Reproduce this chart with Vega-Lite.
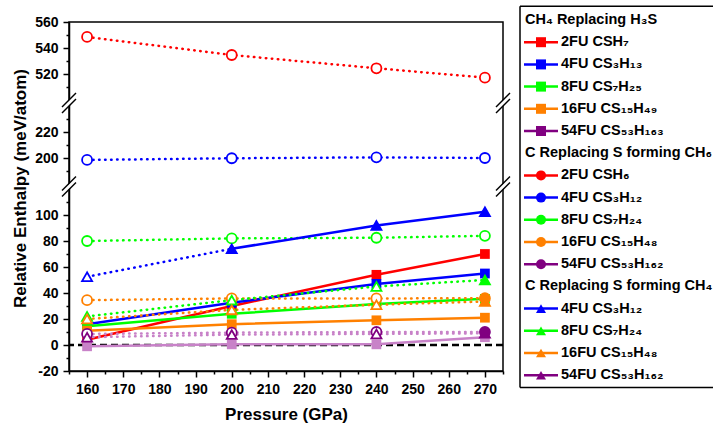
{
  "$schema": "https://vega.github.io/schema/vega-lite/v6.json",
  "padding": {"left": 10, "top": 5, "right": 0, "bottom": 0},
  "autosize": {"type": "pad"},
  "spacing": 17,
  "bounds": "flush",
  "config": {
    "font": "Liberation Sans",
    "view": {"stroke": "black", "strokeWidth": 1.5},
    "axis": {
      "labelFont": "Liberation Sans", "labelFontWeight": "bold", "labelFontSize": 14, "labelColor": "black",
      "titleFont": "Liberation Sans", "titleFontWeight": "bold", "titleColor": "black",
      "domainColor": "black", "domainWidth": 1.5, "tickColor": "black", "tickWidth": 1.5,
      "grid": false, "labelPadding": 5, "labelOverlap": false, "labelFlush": false
    }
  },
  "hconcat": [
    {
      "width": 434,
      "height": 349,
      "data": {"values": [
        {"fu": "2FU", "group": "A", "p": 160, "v": 4, "filled": true},
        {"fu": "2FU", "group": "A", "p": 200, "v": 30, "filled": true},
        {"fu": "2FU", "group": "A", "p": 240, "v": 54, "filled": true},
        {"fu": "2FU", "group": "A", "p": 270, "v": 70, "filled": true},
        {"fu": "4FU", "group": "A", "p": 160, "v": 16, "filled": true},
        {"fu": "4FU", "group": "A", "p": 200, "v": 32.5, "filled": true},
        {"fu": "4FU", "group": "A", "p": 240, "v": 47, "filled": true},
        {"fu": "4FU", "group": "A", "p": 270, "v": 55, "filled": true},
        {"fu": "8FU", "group": "A", "p": 160, "v": 14.5, "filled": true},
        {"fu": "8FU", "group": "A", "p": 200, "v": 24, "filled": true},
        {"fu": "8FU", "group": "A", "p": 240, "v": 31.5, "filled": true},
        {"fu": "8FU", "group": "A", "p": 270, "v": 35.5, "filled": true},
        {"fu": "16FU", "group": "A", "p": 160, "v": 11, "filled": true},
        {"fu": "16FU", "group": "A", "p": 200, "v": 16, "filled": true},
        {"fu": "16FU", "group": "A", "p": 240, "v": 19, "filled": true},
        {"fu": "16FU", "group": "A", "p": 270, "v": 21, "filled": true},
        {"fu": "54FU", "group": "A", "p": 160, "v": -1, "filled": true},
        {"fu": "54FU", "group": "A", "p": 200, "v": 0.5, "filled": true},
        {"fu": "54FU", "group": "A", "p": 240, "v": 0.5, "filled": true},
        {"fu": "54FU", "group": "A", "p": 270, "v": 6, "filled": true},
        {"fu": "2FU", "group": "B", "p": 160, "v": 548.5, "filled": false},
        {"fu": "2FU", "group": "B", "p": 200, "v": 534.6, "filled": false},
        {"fu": "2FU", "group": "B", "p": 240, "v": 524.4, "filled": false},
        {"fu": "2FU", "group": "B", "p": 270, "v": 517.2, "filled": false},
        {"fu": "4FU", "group": "B", "p": 160, "v": 198.5, "filled": false},
        {"fu": "4FU", "group": "B", "p": 200, "v": 199.8, "filled": false},
        {"fu": "4FU", "group": "B", "p": 240, "v": 200.5, "filled": false},
        {"fu": "4FU", "group": "B", "p": 270, "v": 200, "filled": false},
        {"fu": "8FU", "group": "B", "p": 160, "v": 80, "filled": false},
        {"fu": "8FU", "group": "B", "p": 200, "v": 82, "filled": false},
        {"fu": "8FU", "group": "B", "p": 240, "v": 82.5, "filled": false},
        {"fu": "8FU", "group": "B", "p": 270, "v": 84, "filled": false},
        {"fu": "16FU", "group": "B", "p": 160, "v": 34.5, "filled": false},
        {"fu": "16FU", "group": "B", "p": 200, "v": 35.8, "filled": false},
        {"fu": "16FU", "group": "B", "p": 240, "v": 35.8, "filled": false},
        {"fu": "16FU", "group": "B", "p": 270, "v": 36, "filled": true},
        {"fu": "54FU", "group": "B", "p": 160, "v": 8.5, "filled": false},
        {"fu": "54FU", "group": "B", "p": 200, "v": 9.5, "filled": false},
        {"fu": "54FU", "group": "B", "p": 240, "v": 10, "filled": false},
        {"fu": "54FU", "group": "B", "p": 270, "v": 10, "filled": true},
        {"fu": "4FU", "group": "C", "p": 160, "v": 52.5, "filled": false},
        {"fu": "4FU", "group": "C", "p": 200, "v": 74, "filled": true},
        {"fu": "4FU", "group": "C", "p": 240, "v": 92, "filled": true},
        {"fu": "4FU", "group": "C", "p": 270, "v": 102.5, "filled": true},
        {"fu": "8FU", "group": "C", "p": 160, "v": 22, "filled": false},
        {"fu": "8FU", "group": "C", "p": 200, "v": 34.5, "filled": false},
        {"fu": "8FU", "group": "C", "p": 240, "v": 45, "filled": false},
        {"fu": "8FU", "group": "C", "p": 270, "v": 50, "filled": true},
        {"fu": "16FU", "group": "C", "p": 160, "v": 20, "filled": false},
        {"fu": "16FU", "group": "C", "p": 200, "v": 27, "filled": false},
        {"fu": "16FU", "group": "C", "p": 240, "v": 31, "filled": false},
        {"fu": "16FU", "group": "C", "p": 270, "v": 33.5, "filled": true},
        {"fu": "54FU", "group": "C", "p": 160, "v": 6, "filled": false},
        {"fu": "54FU", "group": "C", "p": 200, "v": 8, "filled": false},
        {"fu": "54FU", "group": "C", "p": 240, "v": 8.5, "filled": false},
        {"fu": "54FU", "group": "C", "p": 270, "v": 9, "filled": true}
      ]},
      "resolve": {"axis": {"x": "independent", "y": "independent"}},
      "layer": [
        {
          "data": {"values": [{}]},
          "mark": {"type": "rule", "color": "black", "strokeWidth": 2.5, "strokeDash": [7, 4]},
          "encoding": {"y": {"datum": 0, "type": "quantitative", "axis": null}}
        },
        {
          "transform": [{"filter": "datum.group == 'A'"}],
          "mark": {"type": "line", "strokeWidth": 2.5},
          "encoding": {
            "x": {"field": "p", "type": "quantitative", "scale": {"domain": [155, 275], "nice": false, "zero": false},
              "axis": {"orient": "bottom", "values": [160,170,180,190,200,210,220,230,240,250,260,270],
                "labelExpr": "'' + datum.value", "tickSize": 6,
                "title": "Pressure (GPa)", "titleFontSize": 17, "titlePadding": 10}},
            "y": {"field": "v", "type": "quantitative",
              "scale": {"domain": [-20, 120, 180, 240, 500, 560], "range": [349, 167, 162, 84, 78, 0], "nice": false, "zero": false},
              "axis": {"orient": "left", "values": [-20,0,20,40,60,80,100,200,220,520,540,560],
                "labelExpr": "'' + datum.value", "tickSize": 6,
                "title": "Relative Enthalpy (meV/atom)", "titleFontSize": 17, "titlePadding": 5, "titleY": 166}},
            "color": {"field": "fu", "type": "nominal", "legend": null,
              "scale": {"domain": ["2FU","4FU","8FU","16FU","54FU"], "range": ["#ff0000","#0000ff","#00ff00","#ff8000","#c882c8"]}}
          }
        },
        {
          "transform": [{"filter": "datum.group != 'A' && !(datum.group == 'C' && datum.fu == '4FU' && datum.p > 200)"}],
          "mark": {"type": "line", "strokeWidth": 2.5, "strokeDash": [0.5, 5.5], "strokeCap": "round"},
          "encoding": {
            "x": {"field": "p", "type": "quantitative",
              "axis": {"orient": "bottom", "values": [155,165,175,185,195,205,215,225,235,245,255,265,275],
                "labels": false, "domain": false, "title": null, "tickSize": 3}},
            "y": {"field": "v", "type": "quantitative",
              "axis": {"orient": "left", "values": [-10,10,30,50,70,90,110,190,210,230,510,530,550],
                "labels": false, "domain": false, "title": null, "tickSize": 3}},
            "color": {"field": "fu", "type": "nominal", "legend": null},
            "detail": {"field": "group"}
          }
        },
        {
          "transform": [{"filter": "datum.group == 'C' && datum.fu == '4FU' && datum.p >= 200"}],
          "mark": {"type": "line", "strokeWidth": 2.5},
          "encoding": {
            "x": {"field": "p", "type": "quantitative", "axis": null},
            "y": {"field": "v", "type": "quantitative", "axis": null},
            "color": {"field": "fu", "type": "nominal", "legend": null}
          }
        },
        {
          "transform": [{"filter": "datum.group == 'A'"}],
          "mark": {"type": "point", "filled": true, "size": 95, "opacity": 1},
          "encoding": {
            "x": {"field": "p", "type": "quantitative", "axis": null},
            "y": {"field": "v", "type": "quantitative", "axis": null},
            "shape": {"field": "group", "type": "nominal", "legend": null,
              "scale": {"domain": ["A","B","C"], "range": ["square","circle","triangle-up"]}},
            "color": {"field": "fu", "type": "nominal", "legend": null}
          }
        },
        {
          "transform": [{"filter": "datum.group != 'A'"}],
          "mark": {"type": "point", "size": 100, "strokeWidth": 1.8, "opacity": 1},
          "encoding": {
            "x": {"field": "p", "type": "quantitative", "axis": null},
            "y": {"field": "v", "type": "quantitative", "axis": null},
            "shape": {"field": "group", "type": "nominal", "legend": null},
            "stroke": {"field": "fu", "type": "nominal", "legend": null,
              "scale": {"domain": ["2FU","4FU","8FU","16FU","54FU"], "range": ["#ff0000","#0000ff","#00ff00","#ff8000","#800080"]}},
            "fill": {"condition": {"test": "!datum.filled", "value": "white"}, "field": "fu", "type": "nominal", "legend": null,
              "scale": {"domain": ["2FU","4FU","8FU","16FU","54FU"], "range": ["#ff0000","#0000ff","#00ff00","#ff8000","#800080"]}}
          }
        },
        {
          "data": {"name": "breaks", "values": [
            {"kind": "mask", "p": 153.07, "p2": 156.93, "v": 236.9, "v2": 503.1},
            {"kind": "line", "p": 153.07, "p2": 156.93, "v": 234.6, "v2": 500.8},
            {"kind": "line", "p": 153.07, "p2": 156.93, "v": 239.2, "v2": 505.4},
            {"kind": "mask", "p": 153.07, "p2": 156.93, "v": 116.5, "v2": 183.5},
            {"kind": "line", "p": 153.07, "p2": 156.93, "v": 114.2, "v2": 181.2},
            {"kind": "line", "p": 153.07, "p2": 156.93, "v": 118.8, "v2": 185.8},
            {"kind": "mask", "p": 273.07, "p2": 276.93, "v": 236.9, "v2": 503.1},
            {"kind": "line", "p": 273.07, "p2": 276.93, "v": 234.6, "v2": 500.8},
            {"kind": "line", "p": 273.07, "p2": 276.93, "v": 239.2, "v2": 505.4},
            {"kind": "mask", "p": 273.07, "p2": 276.93, "v": 116.5, "v2": 183.5},
            {"kind": "line", "p": 273.07, "p2": 276.93, "v": 114.2, "v2": 181.2},
            {"kind": "line", "p": 273.07, "p2": 276.93, "v": 118.8, "v2": 185.8}
          ]},
          "transform": [{"filter": "datum.kind == 'mask'"}],
          "mark": {"type": "rule", "color": "white", "strokeWidth": 3.5},
          "encoding": {
            "x": {"field": "p", "type": "quantitative", "axis": null}, "x2": {"field": "p2"},
            "y": {"field": "v", "type": "quantitative", "axis": null}, "y2": {"field": "v2"}
          }
        },
        {
          "data": {"name": "breaks"},
          "transform": [{"filter": "datum.kind == 'line'"}],
          "mark": {"type": "rule", "color": "black", "strokeWidth": 1.4},
          "encoding": {
            "x": {"field": "p", "type": "quantitative", "axis": null}, "x2": {"field": "p2"},
            "y": {"field": "v", "type": "quantitative", "axis": null}, "y2": {"field": "v2"}
          }
        }
      ]
    },
    {
      "width": 195,
      "height": 349,
      "view": {"stroke": null},
      "data": {"values": [
        {"row": 0, "label": "CH₄ Replacing H₃S", "fu": null, "group": null},
        {"row": 1, "label": "2FU CSH₇", "fu": "2FU", "group": "A"},
        {"row": 2, "label": "4FU CS₃H₁₃", "fu": "4FU", "group": "A"},
        {"row": 3, "label": "8FU CS₇H₂₅", "fu": "8FU", "group": "A"},
        {"row": 4, "label": "16FU CS₁₅H₄₉", "fu": "16FU", "group": "A"},
        {"row": 5, "label": "54FU CS₅₃H₁₆₃", "fu": "54FU", "group": "A"},
        {"row": 6, "label": "C Replacing S forming CH₆", "fu": null, "group": null},
        {"row": 7, "label": "2FU CSH₆", "fu": "2FU", "group": "B"},
        {"row": 8, "label": "4FU CS₃H₁₂", "fu": "4FU", "group": "B"},
        {"row": 9, "label": "8FU CS₇H₂₄", "fu": "8FU", "group": "B"},
        {"row": 10, "label": "16FU CS₁₅H₄₈", "fu": "16FU", "group": "B"},
        {"row": 11, "label": "54FU CS₅₃H₁₆₂", "fu": "54FU", "group": "B"},
        {"row": 12, "label": "C Replacing S forming CH₄", "fu": null, "group": null},
        {"row": 13, "label": "4FU CS₃H₁₂", "fu": "4FU", "group": "C"},
        {"row": 14, "label": "8FU CS₇H₂₄", "fu": "8FU", "group": "C"},
        {"row": 15, "label": "16FU CS₁₅H₄₈", "fu": "16FU", "group": "C"},
        {"row": 16, "label": "54FU CS₅₃H₁₆₂", "fu": "54FU", "group": "C"}
      ]},
      "layer": [
        {
          "data": {"values": [{}]},
          "mark": {"type": "rule", "color": "black", "strokeWidth": 1.5},
          "encoding": {
            "x": {"datum": 0, "type": "quantitative", "scale": {"domain": [0, 195], "nice": false, "zero": false}, "axis": null},
            "x2": {"datum": 195},
            "y": {"datum": -0.62, "type": "quantitative", "scale": {"domain": [0.09, 15.81], "reverse": true, "nice": false, "zero": false}, "axis": null}
          }
        },
        {
          "data": {"values": [{}]},
          "mark": {"type": "rule", "color": "black", "strokeWidth": 1.5},
          "encoding": {
            "x": {"datum": 0, "type": "quantitative"},
            "y": {"datum": -0.62, "type": "quantitative"},
            "y2": {"datum": 16.55}
          }
        },
        {
          "data": {"values": [{}]},
          "mark": {"type": "rule", "color": "black", "strokeWidth": 1.5},
          "encoding": {
            "x": {"datum": 0, "type": "quantitative"},
            "x2": {"datum": 195},
            "y": {"datum": 16.55, "type": "quantitative"}
          }
        },
        {
          "transform": [{"filter": "datum.fu != null"}],
          "mark": {"type": "rule", "strokeWidth": 2.5},
          "encoding": {
            "x": {"datum": 4, "type": "quantitative"},
            "x2": {"datum": 38},
            "y": {"field": "row", "type": "quantitative"},
            "stroke": {"field": "fu", "type": "nominal", "legend": null,
              "scale": {"domain": ["2FU","4FU","8FU","16FU","54FU"], "range": ["#ff0000","#0000ff","#00ff00","#ff8000","#800080"]}}
          }
        },
        {
          "transform": [{"filter": "datum.fu != null"}],
          "mark": {"type": "point", "filled": true, "size": 100, "opacity": 1},
          "encoding": {
            "x": {"datum": 21, "type": "quantitative"},
            "y": {"field": "row", "type": "quantitative"},
            "shape": {"field": "group", "type": "nominal", "legend": null,
              "scale": {"domain": ["A","B","C"], "range": ["square","circle","triangle-up"]}},
            "fill": {"field": "fu", "type": "nominal", "legend": null,
              "scale": {"domain": ["2FU","4FU","8FU","16FU","54FU"], "range": ["#ff0000","#0000ff","#00ff00","#ff8000","#800080"]}}
          }
        },
        {
          "transform": [{"filter": "datum.fu == null"}],
          "mark": {"type": "text", "align": "left", "baseline": "middle", "font": "Liberation Sans", "fontWeight": "bold", "fontSize": 14.5, "color": "black"},
          "encoding": {
            "x": {"datum": 5, "type": "quantitative"},
            "y": {"field": "row", "type": "quantitative"},
            "text": {"field": "label"}
          }
        },
        {
          "transform": [{"filter": "datum.fu != null"}],
          "mark": {"type": "text", "align": "left", "baseline": "middle", "font": "Liberation Sans", "fontWeight": "bold", "fontSize": 14.5, "color": "black"},
          "encoding": {
            "x": {"datum": 41, "type": "quantitative"},
            "y": {"field": "row", "type": "quantitative"},
            "text": {"field": "label"}
          }
        }
      ]
    }
  ]
}
